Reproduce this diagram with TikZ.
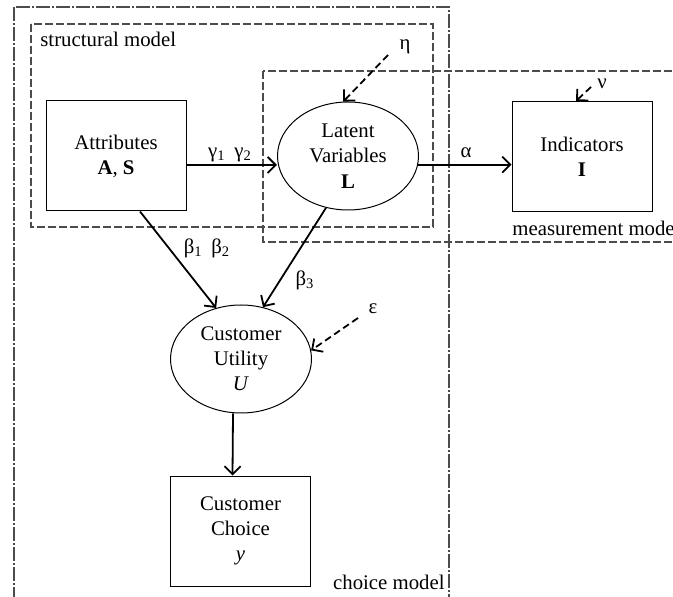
\documentclass[tikz,border=0pt]{standalone}
\usepackage{fontspec}
\setmainfont{Liberation Serif}
\usetikzlibrary{arrows.meta,shapes.geometric}

\begin{document}
\begin{tikzpicture}[x=0.5pt,y=-0.5pt,font=\fontsize{10.4}{12.6}\selectfont,
  varbox/.style={draw,line width=0.5pt,minimum width=70pt,minimum height=55pt,align=center,inner sep=0pt},
  varoval/.style={draw,ellipse,line width=0.5pt,minimum width=70.5pt,minimum height=54pt,align=center,inner sep=0pt},
  link/.style={line width=0.9pt,-{Straight Barb[length=4pt,width=8pt]}},
  noise/.style={link,dash pattern=on 3.5pt off 2pt},
  frame/.style={draw=black!70,line width=0.6pt}]
  \clip (0,0) rectangle (673,597);
  % model frames (measurement and choice frames run past the page edge)
  \draw[frame,dash pattern=on 7pt off 1pt on 1pt off 1pt] (14,7) rectangle (449,640);
  \draw[frame,dash pattern=on 4pt off 1.5pt] (31,24) rectangle (433,227);
  \draw[frame,dash pattern=on 4pt off 1.5pt] (263,71) rectangle (720,242);
  \node[anchor=west,inner sep=0pt] (structlbl) at (40,39) {structural model};
  \node[anchor=west,inner sep=0pt] (measlbl) at (512,228) {measurement model};
  \node[anchor=east,inner sep=0pt] (choicelbl) at (445,582) {choice model};
  % variables
  \node[varbox] (attr) at (116,156) {Attributes\\\textbf{A}, \textbf{S}};
  \node[varoval] (latent) at (348,156) {Latent\\Variables\\\textbf{L}};
  \node[varbox] (ind) at (582,156.5) {Indicators\\\textbf{I}};
  \node[varoval] (util) at (241,359) {Customer\\Utility\\\textit{U}};
  \node[varbox] (choice) at (240.5,531) {Customer\\Choice\\\textit{y}};
  % structural paths
  \draw[link] ([yshift=-4.5pt]attr.east) -- ([yshift=-4.5pt]attr.east -| latent.west);
  \node (gam) at (230,155) {γ\textsubscript{1}\, γ\textsubscript{2}};
  \draw[link] (latent.353) -- (latent.353 -| ind.west);
  \node (alp) at (466,153) {α};
  \draw[link] ([xshift=12pt]attr.south) -- (util.116);
  \node (bet12) at (207,248) {β\textsubscript{1}\, β\textsubscript{2}};
  \draw[link] (latent.247) -- (util.67);
  \node (bet3) at (305,280) {β\textsubscript{3}};
  \draw[link] ([xshift=-4pt]util.south) -- ([xshift=-4pt]choice.north);
  % error terms
  \coordinate (etatail) at (388,55);
  \node (eta) at (405,47) {η};
  \draw[noise] (etatail) -- (latent.95);
  \coordinate (nutail) at (591,87);
  \node (nu) at (602,84) {ν};
  \draw[noise] (nutail) -- ([xshift=-3pt]ind.north);
  \coordinate (epstail) at (358,318);
  \node (eps) at (373,309) {ε};
  \draw[noise] (epstail) -- (util.7);
\end{tikzpicture}
\end{document}
